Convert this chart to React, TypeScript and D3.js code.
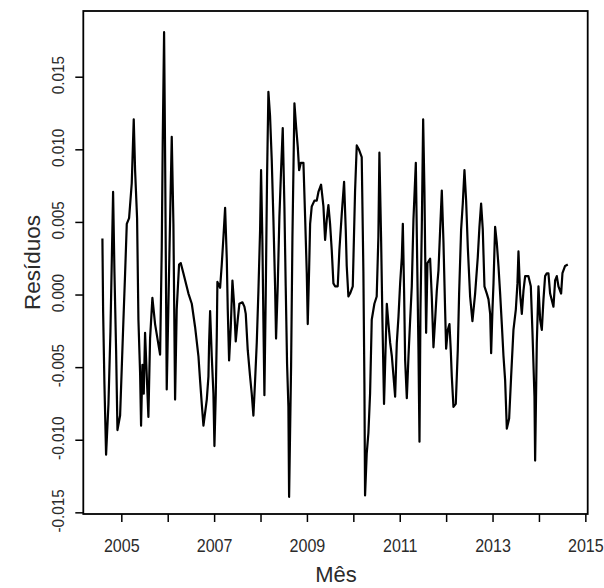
import React from "react";
import * as d3 from "d3";

// residuos do modelo, lidos ponto a ponto do grafico (mes em ano decimal)
const mes = [
  2004.582, 2004.597, 2004.625, 2004.661, 2004.712, 2004.755, 2004.783, 2004.812, 2004.841, 2004.877,
  2004.906, 2004.963, 2004.999, 2005.035, 2005.071, 2005.107, 2005.157, 2005.214, 2005.257, 2005.286,
  2005.329, 2005.358, 2005.394, 2005.415, 2005.444, 2005.473, 2005.501, 2005.573, 2005.609, 2005.659,
  2005.717, 2005.825, 2005.861, 2005.882, 2005.911, 2005.932, 2005.968, 2006.076, 2006.112, 2006.148,
  2006.183, 2006.234, 2006.27, 2006.327, 2006.436, 2006.508, 2006.579, 2006.651, 2006.687, 2006.723,
  2006.759, 2006.795, 2006.831, 2006.867, 2006.881, 2006.903, 2006.938, 2006.974, 2006.996, 2007.025,
  2007.046, 2007.06, 2007.118, 2007.154, 2007.19, 2007.226, 2007.262, 2007.283, 2007.312, 2007.348,
  2007.384, 2007.419, 2007.455, 2007.498, 2007.534, 2007.599, 2007.642, 2007.671, 2007.714, 2007.764,
  2007.8, 2007.836, 2007.872, 2007.908, 2007.944, 2007.98, 2008.001, 2008.03, 2008.051, 2008.073,
  2008.102, 2008.13, 2008.159, 2008.195, 2008.231, 2008.267, 2008.303, 2008.324, 2008.36, 2008.396,
  2008.432, 2008.468, 2008.504, 2008.532, 2008.561, 2008.59, 2008.605, 2008.648, 2008.677, 2008.72,
  2008.756, 2008.792, 2008.821, 2008.856, 2008.914, 2008.95, 2008.986, 2009.007, 2009.036, 2009.058,
  2009.093, 2009.151, 2009.201, 2009.237, 2009.294, 2009.345, 2009.381, 2009.417, 2009.452, 2009.488,
  2009.524, 2009.56, 2009.596, 2009.653, 2009.689, 2009.74, 2009.79, 2009.826, 2009.847, 2009.883,
  2009.919, 2009.977, 2010.027, 2010.063, 2010.113, 2010.17, 2010.206, 2010.228, 2010.242, 2010.278,
  2010.314, 2010.35, 2010.386, 2010.443, 2010.493, 2010.529, 2010.551, 2010.587, 2010.616, 2010.651,
  2010.711, 2010.747, 2010.783, 2010.819, 2010.855, 2010.89, 2010.926, 2010.962, 2010.998, 2011.034,
  2011.056, 2011.084, 2011.106, 2011.142, 2011.178, 2011.214, 2011.249, 2011.285, 2011.336, 2011.364,
  2011.393, 2011.415, 2011.436, 2011.465, 2011.494, 2011.522, 2011.558, 2011.587, 2011.644, 2011.68,
  2011.716, 2011.752, 2011.788, 2011.824, 2011.86, 2011.896, 2011.932, 2011.967, 2011.989, 2012.025,
  2012.061, 2012.089, 2012.111, 2012.147, 2012.197, 2012.24, 2012.269, 2012.312, 2012.348, 2012.384,
  2012.42, 2012.456, 2012.506, 2012.556, 2012.614, 2012.671, 2012.707, 2012.743, 2012.779, 2012.815,
  2012.866, 2012.902, 2012.938, 2012.959, 2012.988, 2013.01, 2013.045, 2013.081, 2013.117, 2013.153,
  2013.189, 2013.225, 2013.261, 2013.297, 2013.347, 2013.39, 2013.44, 2013.491, 2013.526, 2013.548,
  2013.584, 2013.62, 2013.656, 2013.692, 2013.763, 2013.814, 2013.85, 2013.893, 2013.907, 2013.943,
  2013.979, 2014.015, 2014.051, 2014.087, 2014.122, 2014.158, 2014.194, 2014.23, 2014.302, 2014.338,
  2014.374, 2014.41, 2014.467, 2014.496, 2014.553, 2014.611,
];

const residuos = [
  0.0039, -0.0011, -0.0061, -0.011, -0.0075, -0.0025, 0.0022, 0.0071, 0.0016, -0.0038,
  -0.0093, -0.0083, -0.005, -0.0017, 0.0015, 0.0049, 0.0053, 0.0077, 0.0121, 0.0086,
  0.0053, -0.0017, -0.0054, -0.009, -0.0048, -0.0068, -0.0026, -0.0084, -0.003, -0.0002,
  -0.002, -0.0041, 0.0033, 0.0107, 0.0181, 0.01, -0.0065, 0.0109, 0.0049, -0.0072,
  -0.001, 0.0021, 0.0022, 0.0015, 0.0001, -0.0006, -0.0022, -0.0042, -0.0059, -0.0075,
  -0.009, -0.0081, -0.0072, -0.0056, -0.0033, -0.0011, -0.0042, -0.0068, -0.0104, -0.0068,
  -0.0029, 0.0009, 0.0005, 0.0021, 0.004, 0.006, 0.0025, -0.001, -0.0045, -0.0022,
  0.001, -0.0006, -0.0032, -0.0017, -0.0006, -0.0005, -0.0008, -0.0013, -0.0038, -0.0056,
  -0.0068, -0.0083, -0.0059, -0.0033, 0.0003, 0.0045, 0.0086, 0.0036, -0.0017, -0.0069,
  0.0001, 0.0081, 0.014, 0.0123, 0.0093, 0.0052, 0.0006, -0.003, 0.0006, 0.0054,
  0.0086, 0.0115, 0.0061, 0.0006, -0.0047, -0.0077, -0.0139, -0.0049, 0.004, 0.0132,
  0.0116, 0.0102, 0.0086, 0.0091, 0.0091, 0.0054, 0.0015, -0.002, 0.0017, 0.0049,
  0.0061, 0.0065, 0.0065, 0.0071, 0.0076, 0.0061, 0.0038, 0.0052, 0.0062, 0.0049,
  0.0031, 0.0008, 0.0006, 0.0006, 0.0031, 0.0056, 0.0078, 0.0045, 0.002, -0.0001,
  0.0001, 0.0006, 0.0072, 0.0103, 0.01, 0.0095, 0.0016, -0.0061, -0.0138, -0.0109,
  -0.0095, -0.0068, -0.0017, -0.0006, -0.0001, 0.004, 0.0098, 0.004, -0.0017, -0.0075,
  -0.0006, -0.002, -0.0033, -0.0042, -0.0056, -0.007, -0.0033, -0.0015, 0.0008, 0.0026,
  0.0049, 0.0001, -0.0045, -0.0071, -0.0042, -0.0017, 0.0006, 0.0052, 0.0091, 0.0026,
  -0.0038, -0.0101, -0.001, 0.0047, 0.0121, 0.0071, -0.0026, 0.0022, 0.0025, -0.0001,
  -0.0036, -0.0017, 0.0003, 0.0017, 0.0045, 0.0072, 0.0036, -0.001, -0.0037, -0.0024,
  -0.002, -0.0038, -0.0056, -0.0077, -0.0075, -0.0038, 0.0001, 0.0045, 0.0063, 0.0086,
  0.0065, 0.0033, -0.0001, -0.0018, 0.0001, 0.0026, 0.0047, 0.0063, 0.0045, 0.0006,
  0.0001, -0.0003, -0.0013, -0.004, -0.001, 0.0008, 0.0047, 0.0036, 0.002, 0.0001,
  -0.002, -0.0042, -0.0059, -0.0092, -0.0085, -0.0056, -0.0024, -0.001, 0.0008, 0.003,
  0.0001, -0.0013, 0.0003, 0.0013, 0.0013, 0.0006, -0.0026, -0.007, -0.0114, -0.0033,
  0.0006, -0.0017, -0.0024, -0.0003, 0.0013, 0.0015, 0.0015, 0.0001, -0.0008, 0.001,
  0.0013, 0.0006, 0.0001, 0.0015, 0.002, 0.0021,
];

const anosTicks = [2005, 2006, 2007, 2008, 2009, 2010, 2011, 2012, 2013, 2014, 2015];
const anosRotulos = [2005, 2007, 2009, 2011, 2013, 2015];
const yTicks = [-0.015, -0.01, -0.005, 0, 0.005, 0.01, 0.015];

const W = 604;
const H = 588;
const box = { left: 83.3, right: 587.7, top: 11, bottom: 514 };

const font = "'Liberation Sans', Arial, sans-serif";
const txt = "#2b2b2b";

export default function App() {
  const x = d3.scaleLinear().domain([2004.17, 2015.04]).range([box.left, box.right]);
  const y = d3.scaleLinear().domain([-0.01508, 0.01956]).range([box.bottom, box.top]);

  const dados = mes.map((m, i) => ({ m, r: residuos[i] }));
  const linha = d3
    .line<{ m: number; r: number }>()
    .x((d) => x(d.m))
    .y((d) => y(d.r));

  return (
    <svg
      width={W}
      height={H}
      style={{ position: "absolute", left: 0, top: 0, background: "#fff" }}
    >
      <rect width={W} height={H} fill="#fff" />
      <path d={linha(dados) || ""} fill="none" stroke="#000" strokeWidth={2.2} strokeLinejoin="round" />
      <rect
        x={box.left}
        y={box.top}
        width={box.right - box.left}
        height={box.bottom - box.top}
        fill="none"
        stroke="#000"
        strokeWidth={1.8}
      />

      {/* eixo x */}
      {anosTicks.map((a) => (
        <line key={a} x1={x(a)} x2={x(a)} y1={box.bottom} y2={box.bottom + 8} stroke="#000" strokeWidth={1.5} />
      ))}
      {anosRotulos.map((a) => (
        <text
          key={a}
          transform={`translate(${x(a)},552) scale(0.87,1)`}
          textAnchor="middle"
          fontFamily={font}
          fontSize={18.5}
          fill={txt}
        >
          {a}
        </text>
      ))}

      {/* eixo y */}
      {yTicks.map((v) => (
        <line key={v} x1={box.left - 8} x2={box.left} y1={y(v)} y2={y(v)} stroke="#000" strokeWidth={1.5} />
      ))}
      {yTicks.map((v) => (
        <text
          key={v}
          transform={`translate(64,${y(v) - 2}) rotate(-90) scale(0.9,1)`}
          textAnchor="middle"
          fontFamily={font}
          fontSize={17}
          fill={txt}
        >
          {v.toFixed(3)}
        </text>
      ))}

      <text x={336} y={582} textAnchor="middle" fontFamily={font} fontSize={22} fill={txt}>
        Mês
      </text>
      <text
        transform={`translate(40,${(box.top + box.bottom) / 2}) rotate(-90)`}
        textAnchor="middle"
        fontFamily={font}
        fontSize={22.5}
        fill={txt}
      >
        Resíduos
      </text>
    </svg>
  );
}
